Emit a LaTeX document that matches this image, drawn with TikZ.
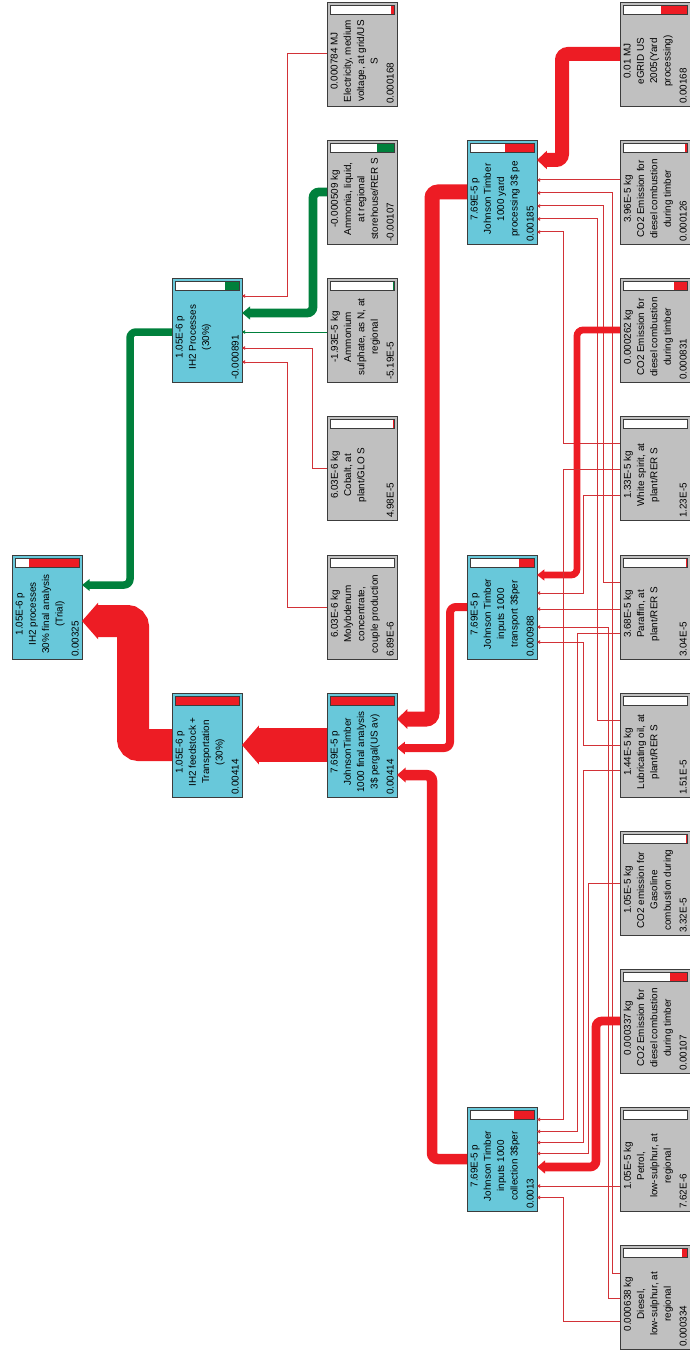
\documentclass[tikz,border=0pt]{standalone}
\usepackage{fontspec}
\setmainfont{Liberation Sans}
\usetikzlibrary{arrows.meta,calc}
\definecolor{boxblue}{RGB}{104,200,218}
\definecolor{boxgrey}{RGB}{192,192,192}
\definecolor{edge}{RGB}{60,60,60}
\definecolor{fred}{RGB}{237,28,36}
\definecolor{tred}{RGB}{210,50,55}
\definecolor{fgreen}{RGB}{0,128,60}
\newcommand\procbox[8]{%
  \node[box, fill=#4, anchor=north west] (#1) at (#2,#3) {};
  \filldraw[fill=white, draw=edge, line width=0.6pt] ([xshift=3pt,yshift=-3pt]#1.north west) rectangle ([xshift=-3pt,yshift=-12pt]#1.north east);
  \fill[#6] ([xshift={-3pt-64pt*#5},yshift=-3pt]#1.north east) rectangle ([xshift=-3pt,yshift=-12pt]#1.north east);
  \draw[edge, line width=0.6pt] ([xshift=3pt,yshift=-3pt]#1.north west) rectangle ([xshift=-3pt,yshift=-12pt]#1.north east);
  \node[txt, anchor=north] at ([xshift=3.5pt,yshift=-59pt]#1.north west) {#7};
  \node[num, anchor=base west] at ([xshift=-3.5pt,yshift=2pt]#1.south east) {#8};
}
\newcommand\lnk[6]{\draw[#1] ([yshift=-#3pt]#2.north west) -| ([yshift=-#5pt,xshift=#6pt]#4.north east) -- ([yshift=-#5pt]#4.north east);}
\begin{document}
\begin{tikzpicture}[x=1pt,y=-1pt,
  box/.style={draw=edge, line width=0.8pt, minimum width=70pt, minimum height=104pt, inner sep=0pt, outer sep=0pt},
  txt/.style={rotate=90, align=center, inner sep=0pt, font=\fontsize{9.9}{13.3}\selectfont},
  num/.style={rotate=90, inner sep=0pt, font=\fontsize{9.9}{13.3}\selectfont},
  flow/.style={draw=fred, line width=#1pt, rounded corners=6pt, -{Triangle[length=5pt 0.35, width=4pt 1]}},
  gflow/.style={flow=#1, draw=fgreen},
  tline/.style={draw=tred, line width=1pt, -{Triangle[length=3pt,width=3.5pt]}},
  gline/.style={tline, draw=fgreen}]
\useasboundingbox (0,0) rectangle (690,1356);
% boxes
\procbox{root}{12}{555}{boxblue}{0.785}{fred}{1.05E-6 p\\IH2 processes\\30\% final analysis\\(Trial)}{0.00325}
\procbox{ih2p}{172}{278}{boxblue}{0.215}{fgreen}{1.05E-6 p\\IH2 Processes\\(30\%)}{-0.000891}
\procbox{feed}{172}{693}{boxblue}{1}{fred}{1.05E-6 p\\IH2 feedstock +\\Transportation\\(30\%)}{0.00414}
\procbox{elec}{327}{2}{boxgrey}{0.04}{fred}{0.000784 MJ\\Electricity, medium\\voltage, at grid/US\\S}{0.000168}
\procbox{ammonia}{327}{140}{boxgrey}{0.26}{fgreen}{-0.000509 kg\\Ammonia, liquid,\\at regional\\storehouse/RER S}{-0.00107}
\procbox{amsul}{327}{278}{boxgrey}{0.015}{fgreen}{-1.93E-5 kg\\Ammonium\\sulphate, as N, at\\regional}{-5.19E-5}
\procbox{cobalt}{327}{416}{boxgrey}{0.015}{fred}{6.03E-6 kg\\Cobalt, at\\plant/GLO S}{4.98E-5}
\procbox{molyb}{327}{555}{boxgrey}{0.004}{fred}{6.03E-6 kg\\Molybdenum\\concentrate,\\couple production}{6.89E-6}
\procbox{jtfinal}{327}{693}{boxblue}{1}{fred}{7.69E-5 p\\JohnsonTimber\\1000 final analysis\\3\$ pergal(US av)}{0.00414}
\procbox{yard}{467}{140}{boxblue}{0.447}{fred}{7.69E-5 p\\Johnson Timber\\1000 yard\\processing 3\$ pe}{0.00185}
\procbox{transport}{467}{555}{boxblue}{0.239}{fred}{7.69E-5 p\\Johnson Timber\\inputs 1000\\transport 3\$per}{0.000988}
\procbox{collection}{467}{1107}{boxblue}{0.314}{fred}{7.69E-5 p\\Johnson Timber\\inputs 1000\\collection 3\$per}{0.0013}
\procbox{egrid}{620}{2}{boxgrey}{0.406}{fred}{0.01 MJ\\eGRID US\\2005(Yard\\processing)}{0.00168}
\procbox{co2a}{620}{140}{boxgrey}{0.03}{fred}{3.96E-5 kg\\CO2 Emission for\\diesel combustion\\during timber}{0.000126}
\procbox{co2b}{620}{278}{boxgrey}{0.2}{fred}{0.000262 kg\\CO2 Emission for\\diesel combustion\\during timber}{0.000831}
\procbox{white}{620}{416}{boxgrey}{0.005}{fred}{1.33E-5 kg\\White spirit, at\\plant/RER S}{1.23E-5}
\procbox{paraffin}{620}{555}{boxgrey}{0.012}{fred}{3.68E-5 kg\\Paraffin, at\\plant/RER S}{3.04E-5}
\procbox{lube}{620}{693}{boxgrey}{0.006}{fred}{1.44E-5 kg\\Lubricating oil, at\\plant/RER S}{1.51E-5}
\procbox{co2gas}{620}{831}{boxgrey}{0.01}{fred}{1.05E-5 kg\\CO2 emission for\\Gasoline\\combustion during}{3.32E-5}
\procbox{co2c}{620}{969}{boxgrey}{0.258}{fred}{0.000337 kg\\CO2 Emission for\\diesel combustion\\during timber}{0.00107}
\procbox{petrol}{620}{1107}{boxgrey}{0.004}{fred}{1.05E-5 kg\\Petrol,\\low-sulphur, at\\regional}{7.62E-6}
\procbox{diesel}{620}{1245}{boxgrey}{0.081}{fred}{0.000638 kg\\Diesel,\\low-sulphur, at\\regional}{0.000334}
% to root
\lnk{flow=32}{feed}{52}{root}{66}{51}
\lnk{gflow=7.5}{ih2p}{54}{root}{30}{48}
% to IH2 processes
\lnk{tline}{elec}{52}{ih2p}{18}{45}
\lnk{gflow=8.8}{ammonia}{52}{ih2p}{35}{71}
\draw[gline] ([yshift=-54pt]amsul.north west) -- ([yshift=-54pt]ih2p.north east);
\lnk{tline}{cobalt}{52}{ih2p}{70}{70}
\lnk{tline}{molyb}{52}{ih2p}{84}{45}
% to feedstock
\draw[flow=34] (jtfinal.west) -- (feed.east);
% to JT final
\lnk{flow=15}{yard}{52}{jtfinal}{26}{35}
\lnk{flow=8}{transport}{52}{jtfinal}{55}{53}
\lnk{flow=10.5}{collection}{52}{jtfinal}{82}{35}
% to yard
\lnk{flow=14}{egrid}{52}{yard}{20}{25}
\draw[tline] ([yshift=-40pt]co2a.north west) -- ([yshift=-40pt]yard.north east);
\lnk{tline}{diesel}{28}{yard}{53}{75}
\lnk{tline}{paraffin}{27}{yard}{66}{66}
\lnk{tline}{lube}{27}{yard}{79}{60}
\lnk{tline}{white}{27}{yard}{92}{26}
% to transport
\lnk{flow=6.8}{co2b}{52}{transport}{20}{40}
\lnk{tline}{white}{79}{transport}{38}{46}
\draw[tline] ([yshift=-54pt]paraffin.north west) -- ([yshift=-54pt]transport.north east);
\lnk{tline}{diesel}{53}{transport}{72}{71}
\lnk{tline}{lube}{52}{transport}{87}{46}
% to collection
\lnk{tline}{white}{53}{collection}{12.5}{26}
\lnk{tline}{paraffin}{78}{collection}{24.5}{40}
\lnk{tline}{lube}{77}{collection}{35.5}{46}
\lnk{tline}{co2gas}{52}{collection}{46.5}{51}
\lnk{flow=8.8}{co2c}{52}{collection}{60}{59}
\draw[tline] ([yshift=-79pt]petrol.north west) -- ([yshift=-79pt]collection.north east);
\lnk{tline}{diesel}{76}{collection}{90.5}{26}
\end{tikzpicture}
\end{document}
